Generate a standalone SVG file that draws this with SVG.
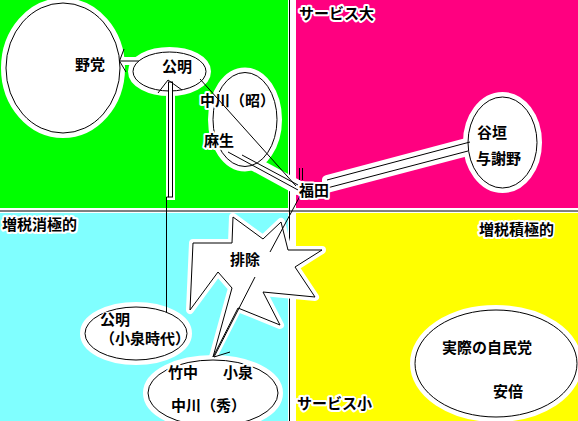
<svg xmlns="http://www.w3.org/2000/svg" width="578" height="421" viewBox="0 0 578 421">
<style>
text{font-family:"Noto Sans CJK JP","Noto Sans",sans-serif;font-size:15px;font-weight:bold;fill:#000;stroke:#fff;stroke-width:4;stroke-linejoin:round;paint-order:stroke}
.halo{fill:none;stroke:#fff;stroke-width:10}
.node{fill:#fff;stroke:#000;stroke-width:1}
.ln{stroke:#000;stroke-width:1;fill:none}
.wl{stroke:#fff;fill:none}
</style>
<g id="background">
<rect x="0" y="0" width="578" height="421" fill="#fff"/>
<rect x="0" y="0" width="288" height="208" fill="#00ff00"/>
<rect x="296" y="0" width="282" height="208" fill="#ff0080"/>
<rect x="0" y="213" width="288" height="208" fill="#80ffff"/>
<rect x="296" y="213" width="282" height="208" fill="#ffff00"/>
<line x1="289.5" y1="0" x2="289.5" y2="421" class="ln"/>
<line x1="0" y1="211" x2="578" y2="211" class="ln"/>
</g>
<g id="axis-labels">
<text x="299" y="19">サービス大</text>
<text x="2" y="230">増税消極的</text>
<text x="479" y="235">増税積極的</text>
<text x="297" y="409">サービス小</text>
</g>
<g id="halos">
<ellipse cx="63" cy="68" rx="57" ry="65" class="halo"/>
<ellipse cx="169.5" cy="71.5" rx="36.5" ry="19.5" class="halo"/>
<ellipse cx="245" cy="119.5" rx="32" ry="47" class="halo"/>
<ellipse cx="502.5" cy="142.5" rx="34.5" ry="45.5" class="halo"/>
<ellipse cx="136" cy="333.5" rx="51" ry="26.5" class="halo"/>
<ellipse cx="213" cy="393" rx="65" ry="33" class="halo"/>
<ellipse cx="496" cy="363.5" rx="81" ry="53.5" class="halo"/>
<polygon points="327,180 470,142 468,151 327,188" fill="#fff" stroke="#fff" stroke-width="10" stroke-linejoin="round"/>
<polygon points="228,152 242,155 298,185 298,190" fill="#fff" stroke="#fff" stroke-width="10" stroke-linejoin="round"/>
<polygon points="190,310 193,243 232,243 233,217 263,239 281,222 288,250 322,250 295,267 315,297 263,292 280,325 238,308 213,357 232,288 218,272" fill="#fff" stroke="#fff" stroke-width="8" stroke-linejoin="round"/>
<line x1="170.5" y1="82" x2="170.5" y2="200" class="wl" stroke-width="9"/>
<line x1="119" y1="61" x2="139" y2="61" class="wl" stroke-width="8"/>
</g>
<g id="node-yato">
<ellipse cx="63" cy="68" rx="57" ry="65" class="node"/>
<text x="75" y="70">野党</text>
</g>
<g id="node-komei">
<ellipse cx="169.5" cy="71.5" rx="36.5" ry="19.5" class="node"/>
<text x="162" y="72">公明</text>
</g>
<g id="node-nakagawa-aso">
<ellipse cx="245" cy="119.5" rx="32" ry="47" class="node"/>
<text x="200" y="106">中川（昭）</text>
<text x="204" y="146">麻生</text>
</g>
<g id="node-tanigaki">
<ellipse cx="502.5" cy="142.5" rx="34.5" ry="45.5" class="node"/>
<text x="477" y="138">谷垣</text>
<text x="476" y="164">与謝野</text>
</g>
<g id="node-haijo">
<polygon points="190,310 193,243 232,243 233,217 263,239 281,222 288,250 322,250 295,267 315,297 263,292 280,325 238,308 213,357 232,288 218,272" class="node"/>
<text x="230" y="265">排除</text>
</g>
<g id="connectors">
<line x1="119" y1="61" x2="139" y2="61" class="ln"/>
<polyline points="124,49 119.5,61 126,72" class="ln"/>
<rect x="168.5" y="82" width="4" height="115" fill="#fff" stroke="#000" stroke-width="1"/>
<line x1="166.5" y1="197" x2="166.5" y2="312" class="ln"/>
<line x1="166.5" y1="197" x2="168.5" y2="197" class="ln"/>
<polyline points="158,93 168,80 182,90" class="ln"/>
<line x1="200" y1="79" x2="296" y2="186" class="ln"/>
<line x1="228" y1="152" x2="298" y2="190" class="ln"/>
<line x1="242" y1="155" x2="298" y2="185" class="ln"/>
<line x1="327" y1="180" x2="470" y2="142" class="ln"/>
<line x1="327" y1="188" x2="468" y2="151" class="ln"/>
<line x1="299.5" y1="168" x2="299.5" y2="180" class="ln"/>
<line x1="302.5" y1="168" x2="302.5" y2="180" class="ln"/>
<line x1="300" y1="196" x2="270" y2="252" class="ln"/>
<line x1="255" y1="277" x2="214" y2="357" class="ln"/>
<line x1="214" y1="357" x2="230" y2="352" class="ln"/>
</g>
<g id="node-fukuda">
<text x="299" y="196">福田</text>
</g>
<g id="node-komei-koizumi">
<ellipse cx="136" cy="333.5" rx="51" ry="26.5" class="node"/>
<text x="100" y="325" style="stroke-width:2">公明</text>
<text x="100" y="344" style="stroke-width:2">（小泉時代）</text>
</g>
<g id="node-koizumi">
<ellipse cx="213" cy="393" rx="65" ry="33" class="node"/>
<text x="168" y="378">竹中</text>
<text x="223" y="378">小泉</text>
<text x="171" y="411">中川（秀）</text>
</g>
<g id="node-jiminto">
<ellipse cx="496" cy="363.5" rx="81" ry="53.5" class="node"/>
<text x="442" y="353">実際の自民党</text>
<text x="493" y="397">安倍</text>
</g>
</svg>
